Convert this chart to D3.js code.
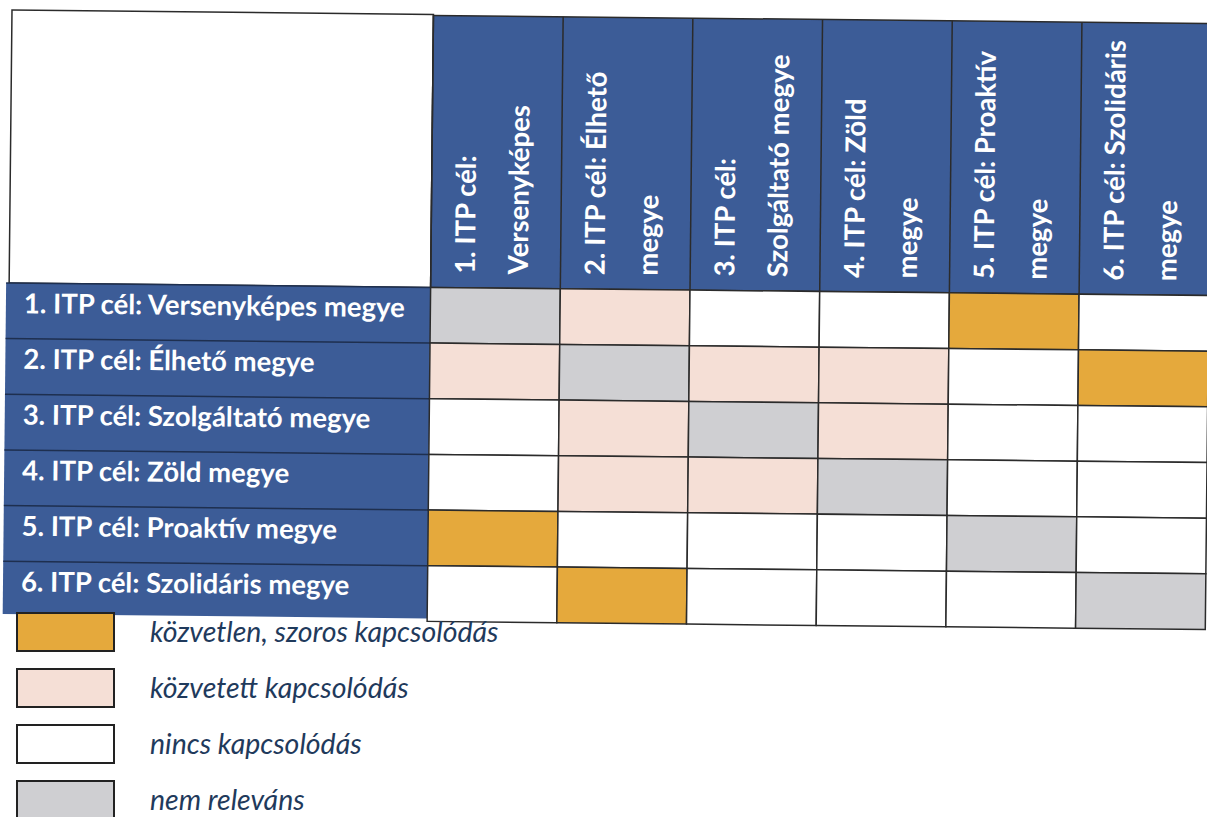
<!DOCTYPE html>
<html><head><meta charset="utf-8">
<script src="https://cdn.jsdelivr.net/npm/d3@7"></script>
<style>body{margin:0;background:#fff;overflow:hidden}</style></head>
<body><svg id="c" width="1207" height="817"></svg>
<script>
// ---- data ----
const rowLabels = [
  "1. ITP cél: Versenyképes megye",
  "2. ITP cél: Élhető megye",
  "3. ITP cél: Szolgáltató megye",
  "4. ITP cél: Zöld megye",
  "5. ITP cél: Proaktív megye",
  "6. ITP cél: Szolidáris megye"
];
const colLabelLines = [
  ["1. ITP cél:", "Versenyképes"],
  ["2. ITP cél: Élhető", "megye"],
  ["3. ITP cél:", "Szolgáltató megye"],
  ["4. ITP cél: Zöld", "megye"],
  ["5. ITP cél: Proaktív", "megye"],
  ["6. ITP cél: Szolidáris", "megye"]
];
const levels = ["direct", "indirect", "none", "na"];
const levelLabels = ["közvetlen, szoros kapcsolódás", "közvetett kapcsolódás", "nincs kapcsolódás", "nem releváns"];
const levelColors = ["#e5a93c", "#f5dfd6", "#ffffff", "#cfcfd2"];
const links = [
  ["na",       "indirect", "none",     "none",     "direct", "none"],
  ["indirect", "na",       "indirect", "indirect", "none",   "direct"],
  ["none",     "indirect", "na",       "indirect", "none",   "none"],
  ["none",     "indirect", "indirect", "na",       "none",   "none"],
  ["direct",   "none",     "none",     "none",     "na",     "none"],
  ["none",     "direct",   "none",     "none",     "none",   "na"]
];

// ---- drawing ----
const svg = d3.select("#c");
const BLUE = "#3c5c97", LINE = "#2b2b2b";
const FONT = "Lato, 'Open Sans', sans-serif";
const x0 = 421.5, cw = 129.7, headTop = 1, headBot = 273, tableBot = 607;
const x = d3.scaleBand().domain(d3.range(6)).range([x0, x0 + 6 * cw]);
const y = d3.scaleBand().domain(d3.range(6)).range([headBot, tableBot]);
const color = d3.scaleOrdinal(levels, levelColors);

const g = svg.append("g").attr("transform", "translate(12,10) rotate(0.6)");

// top-left empty cell
g.append("rect").attr("x", 0).attr("y", 0).attr("width", x0).attr("height", headBot)
  .attr("fill", "#fff").attr("stroke", LINE).attr("stroke-width", 1.5);

// column header band
g.append("rect").attr("x", x0).attr("y", headTop).attr("width", 6 * cw).attr("height", headBot - headTop)
  .attr("fill", BLUE).attr("stroke", LINE).attr("stroke-width", 1.5);
const cols = g.selectAll("g.col").data(colLabelLines).join("g").attr("class", "col");
cols.append("line")
  .attr("x1", (d, i) => x(i)).attr("x2", (d, i) => x(i))
  .attr("y1", headTop).attr("y2", headBot).attr("stroke", LINE).attr("stroke-width", 1.5);
cols.each(function (lines, i) {
  lines.forEach((t, k) => {
    const bx = x(i) + (k === 0 ? 44 : 97), by = 259;
    d3.select(this).append("text")
      .attr("transform", `translate(${bx},${by}) rotate(-90)`)
      .attr("fill", "#fff").attr("font-family", FONT).attr("font-weight", 700)
      .attr("font-size", 27.5).text(t);
  });
});

// row header band
g.append("rect").attr("x", -3).attr("y", headBot).attr("width", x0 + 3).attr("height", tableBot - headBot - 3)
  .attr("fill", BLUE);
const rows = g.selectAll("g.row").data(rowLabels).join("g").attr("class", "row");
rows.append("line")
  .attr("x1", -3).attr("x2", x0)
  .attr("y1", (d, i) => y(i)).attr("y2", (d, i) => y(i))
  .attr("stroke", "#1e2f4f").attr("stroke-width", 1.5);
rows.append("text")
  .attr("x", 15).attr("y", (d, i) => y(i) + 30)
  .attr("fill", "#fff").attr("font-family", FONT).attr("font-weight", 700)
  .attr("font-size", 27.5).text(d => d);

// cells
const cells = links.flatMap((r, i) => r.map((v, j) => ({ i, j, v })));
g.selectAll("rect.cell").data(cells).join("rect").attr("class", "cell")
  .attr("x", d => x(d.j)).attr("y", d => y(d.i))
  .attr("width", x.bandwidth()).attr("height", y.bandwidth())
  .attr("fill", d => color(d.v)).attr("stroke", LINE).attr("stroke-width", 1.5);

// legend
const lg = svg.append("g");
const ly = d3.scalePoint().domain(levels).range([642, 810]);
const items = lg.selectAll("g.item").data(levels).join("g").attr("class", "item");
items.append("rect")
  .attr("x", 17).attr("y", d => ly(d) - 29).attr("width", 97).attr("height", 38)
  .attr("fill", d => color(d)).attr("stroke", "#222").attr("stroke-width", 2);
items.append("text")
  .attr("x", 150).attr("y", d => ly(d))
  .attr("fill", "#1f3a5c").attr("font-family", FONT).attr("font-style", "italic")
  .attr("font-size", 28.5).text((d, i) => levelLabels[i]);
</script>
</body></html>
